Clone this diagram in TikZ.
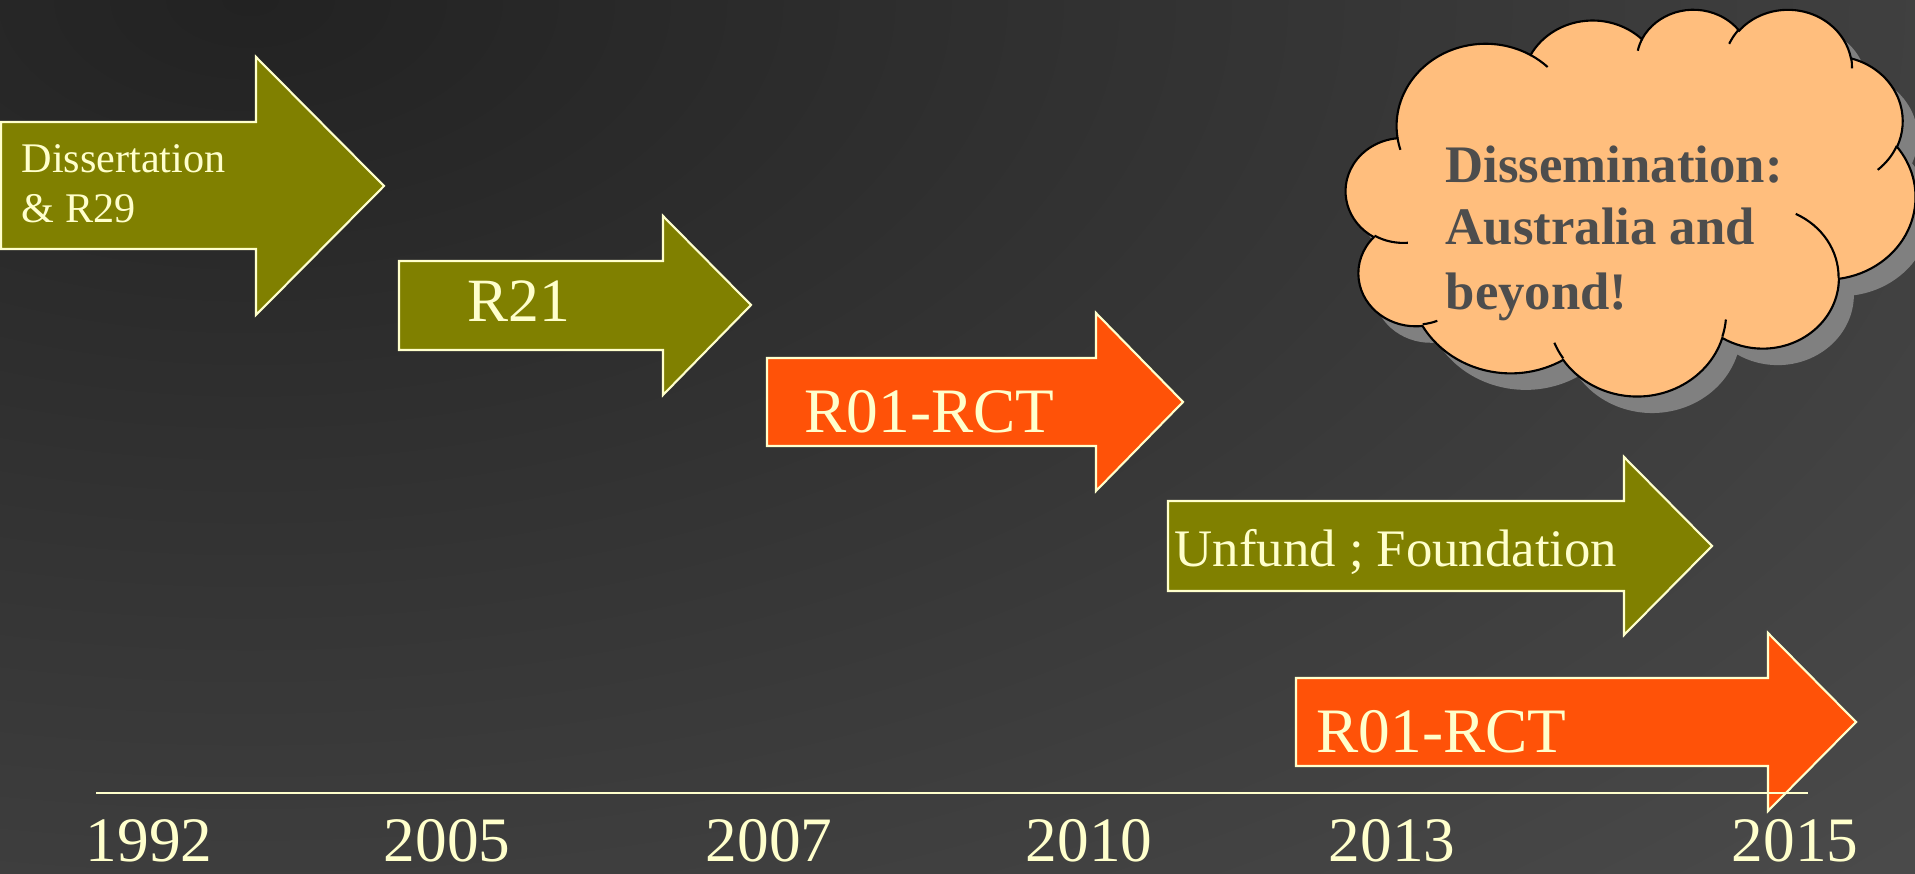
\documentclass[tikz,border=0pt]{standalone}
\usepackage{fontspec}
\setmainfont{Liberation Serif}

\definecolor{bgdark}{RGB}{34,34,34}
\definecolor{bglight}{RGB}{75,75,75}
\definecolor{olivebar}{RGB}{128,128,0}
\definecolor{orangebar}{RGB}{255,82,8}
\definecolor{paleyellow}{RGB}{255,255,204}
\definecolor{cloudfill}{RGB}{255,190,125}
\definecolor{cloudshadow}{RGB}{128,128,128}
\definecolor{cloudink}{RGB}{77,77,77}

\tikzset{olivearrow/.style={fill=olivebar,draw=paleyellow,line width=0.6pt}}
\tikzset{orangearrow/.style={olivearrow,fill=orangebar}}
\tikzset{bartext/.style={text=paleyellow,inner sep=0pt,anchor=base west}}
\tikzset{yeartext/.style={text=paleyellow,inner sep=0pt,text depth=0pt,anchor=base,font=\fontsize{18}{20}\selectfont}}
\tikzset{cloudtext/.style={text=cloudink,inner sep=0pt,anchor=base west,font=\fontsize{15}{18}\selectfont\bfseries}}

% one bump of the cloud: x radius, y radius, start and sweep (visual angles)
\newcommand\puff[4]{arc[x radius=#1,y radius=#2,start angle={atan2(#1*sin(#3),#2*cos(#3))},delta angle={mod(atan2(#1*sin(#3+#4),#2*cos(#3+#4))-atan2(#1*sin(#3),#2*cos(#3))+720,360)}]}
\newcommand\cloudoutline{(3.900,14.370)
  \puff{6.753}{9.190}{-190.48748}{123.78053}
  \puff{5.333}{7.267}{-144.10238}{89.94523}
  \puff{4.365}{5.945}{-145.80792}{99.72302}
  \puff{4.857}{6.595}{-130.98607}{117.24173}
  \puff{5.333}{7.273}{-78.70888}{109.02692}
  \puff{6.775}{9.220}{-46.26725}{130.26900}
  \puff{5.785}{7.867}{0.62502}{114.03333}
  \puff{6.752}{9.215}{22.45160}{115.17255}
  \puff{7.720}{10.543}{66.24263}{75.71102}
  \puff{4.360}{5.918}{-274.94208}{146.73557}
  \puff{4.345}{5.945}{-246.82850}{152.51885} -- cycle}

\begin{document}
\begin{tikzpicture}[x=0.01cm,y=-0.01cm]
    \useasboundingbox (0,0) rectangle (1915,874);
    % background
    \begin{scope}
        \clip (0,0) rectangle (1915,874);
        \shade[inner color=bgdark,outer color=bglight] (250,0) ellipse [x radius=2300,y radius=1300];
    \end{scope}

    % the funding arrows
    \draw[olivearrow] (1,122) -- (256,122) -- (256,57) -- (384,186) -- (256,315) -- (256,249) -- (1,249) -- cycle;
    \draw[olivearrow] (399,261) -- (663,261) -- (663,216) -- (751,305) -- (663,395) -- (663,350) -- (399,350) -- cycle;
    \draw[orangearrow] (767,358) -- (1096,358) -- (1096,313) -- (1183,402) -- (1096,491) -- (1096,446) -- (767,446) -- cycle;
    \draw[olivearrow] (1168,501) -- (1624,501) -- (1624,457) -- (1712,546) -- (1624,635) -- (1624,591) -- (1168,591) -- cycle;
    \draw[orangearrow] (1296,678) -- (1768,678) -- (1768,633) -- (1856,722) -- (1768,811) -- (1768,766) -- (1296,766) -- cycle;

    \node[bartext,font=\fontsize{12}{14}\selectfont] (diss) at (21,173) {Dissertation};
    \node[bartext,font=\fontsize{12}{14}\selectfont] (r29) at (21,223) {\& R29};
    \node[bartext,font=\fontsize{17.5}{20}\selectfont] (r21) at (467,322) {R21};
    \node[bartext,font=\fontsize{18}{20}\selectfont] (rctA) at (804,433) {R01-RCT};
    \node[bartext,font=\fontsize{15}{17}\selectfont] (unfund) at (1174,567) {Unfund ; Foundation};
    \node[bartext,font=\fontsize{18}{20}\selectfont] (rctB) at (1316,753) {R01-RCT};

    % the cloud, with its shadow
    \begin{scope}[shift={(1361,25)},x=0.1317cm,y=-0.08944cm]
        \fill[cloudshadow] \cloudoutline;
    \end{scope}
    \begin{scope}[shift={(1346,8.5)},x=0.1317cm,y=-0.08944cm]
        \draw[fill=cloudfill,line width=0.6pt] \cloudoutline;
        \draw[line width=0.6pt]
            (4.693,26.177) \puff{4.345}{5.945}{86.742}{26.4295}
            (6.928,34.899) \puff{4.360}{5.918}{73.61047}{11.44747}
            (16.478,39.090) \puff{6.752}{9.215}{137.62415}{14.0811}
            (28.827,34.751) \puff{6.752}{9.215}{6.45327}{15.99835}
            (34.129,22.954) \puff{5.785}{7.867}{-70.29235}{70.91737}
            (41.798,15.354) \puff{5.333}{7.273}{30.31803}{27.7515}
            (38.324,5.426) \puff{4.857}{6.595}{-13.74433}{14.8589}
            (29.078,3.952) \puff{4.857}{6.595}{-149.18145}{18.19537}
            (22.141,4.720) \puff{4.365}{5.945}{-163.49427}{17.68635}
            (14.000,5.192) \puff{6.753}{9.190}{-66.70695}{12.31935}
            (4.127,15.789) \puff{6.753}{9.190}{157.65435}{11.85817};
    \end{scope}
    \node[cloudtext] (dissem) at (1445,183) {Dissemination:};
    \node[cloudtext] (austr) at (1445,245) {Australia and};
    \node[cloudtext] (beyond) at (1445,310) {beyond!};

    % time axis
    \coordinate (axisstart) at (96,793);
    \coordinate (axisend) at (1808,793);
    \draw[paleyellow,line width=0.75pt] (axisstart) -- (axisend);
    \node[yeartext] (y1992) at (149,862) {1992};
    \node[yeartext] (y2005) at (447,862) {2005};
    \node[yeartext] (y2007) at (769,862) {2007};
    \node[yeartext] (y2010) at (1089,862) {2010};
    \node[yeartext] (y2013) at (1392,862) {2013};
    \node[yeartext] (y2015) at (1795,862) {2015};
\end{tikzpicture}
\end{document}
